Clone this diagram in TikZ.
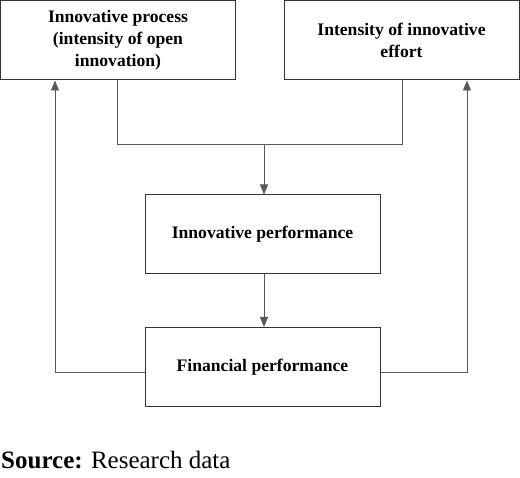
\documentclass[tikz,border=0pt]{standalone}
\usepackage{fontspec}
\setmainfont{Liberation Serif}
\usetikzlibrary{arrows.meta}
\begin{document}
\begin{tikzpicture}[x=1pt,y=-1pt,
  box/.style={draw=black!80,line width=1pt,rectangle,inner sep=0pt,minimum width=235pt,minimum height=79pt,align=center,font=\fontsize{17.6}{22}\selectfont\bfseries},
  conn/.style={draw=black!65,line width=0.8pt},
  arr/.style={conn,-{Triangle[width=8pt,length=10pt]}}]
\useasboundingbox (0,0) rectangle (520,478);
\node[box] (b1) at (118,40.5) {Innovative process\\(intensity of open\\innovation)};
\node[box] (b2) at (401.5,40.5) {Intensity of innovative\\effort};
\node[box] (b3) at (262.5,234.5) {Innovative performance};
\node[box] (b4) at (262.5,367) {Financial performance};
\coordinate (lx) at (55,0);
\coordinate (rx) at (467,0);
\coordinate (ax) at (117,0);
\coordinate (bx) at (402,0);
\coordinate (jy) at (0,144);
\coordinate (mx) at (264,0);
\draw[conn] (b1.south -| ax) -- (ax |- jy) -- (bx |- jy) -- (b2.south -| bx);
\draw[arr] (mx |- jy) -- (b3.north -| mx);
\draw[arr] (b3.south -| mx) -- (b4.north -| mx);
\draw[arr] ([yshift=-5pt]b4.west) -| (b1.south -| lx);
\draw[arr] ([yshift=-5pt]b4.east) -| (b2.south -| rx);
\node[anchor=base west,inner sep=0pt,font=\fontsize{25}{30}\selectfont] (src) at (1,469) {\textbf{Source:} Research data};
\end{tikzpicture}
\end{document}
